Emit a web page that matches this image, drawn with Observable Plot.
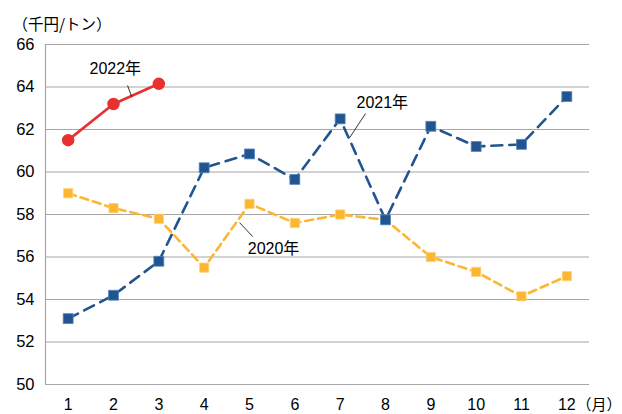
<!DOCTYPE html>
<html><head><meta charset="utf-8">
<script src="https://cdn.jsdelivr.net/npm/d3@7"></script>
<script src="https://cdn.jsdelivr.net/npm/@observablehq/plot@0.6"></script>
<style>
html,body{margin:0;padding:0;background:#fff;}
</style>
</head><body><div id="chart"></div>
<script>
const months = [1,2,3,4,5,6,7,8,9,10,11,12];
const yTicks = [50,52,54,56,58,60,62,64,66];
const v2020 = [59.0,58.3,57.8,55.5,58.5,57.6,58.0,57.75,56.0,55.3,54.15,55.1];
const v2021 = [53.1,54.2,55.8,60.2,60.85,59.65,62.5,57.75,62.15,61.2,61.3,63.55];
const v2022 = [61.5,63.2,64.15];
const labels = [
  {text:"2022年", x:2.04, y:64.87},
  {text:"2021年", x:7.93, y:63.27},
  {text:"2020年", x:5.53, y:56.4}
];
const leaders = [
  {x1:2.31,y1:64.07,x2:2.40,y2:63.55},
  {x1:7.56,y1:62.75,x2:7.21,y2:61.62},
  {x1:4.78,y1:57.62,x2:5.07,y2:56.96}
];
const d2020 = months.map((m,i)=>({m, v:v2020[i]}));
const d2021 = months.map((m,i)=>({m, v:v2021[i]}));
const d2022 = v2022.map((v,i)=>({m:months[i], v}));

const font = "'Liberation Sans', 'Noto Sans CJK JP', sans-serif";
const jfont = "'Noto Sans CJK JP', sans-serif";
const chart = Plot.plot({
  width: 622, height: 414,
  marginLeft: 45, marginRight: 33, marginTop: 44, marginBottom: 30,
  style: {fontFamily: font, fontSize: "16px", color: "#000", background: "#fff"},
  x: {domain: [0.5, 12.5], ticks: months, tickSize: 0, label: null},
  y: {domain: [50, 66], ticks: yTicks, tickSize: 0, label: null},
  marks: [
    Plot.ruleY(yTicks, {stroke: "#a6a6a6", strokeWidth: 1.2}),
    Plot.ruleX([0.5], {stroke: "#a6a6a6", strokeWidth: 1.2}),
    Plot.axisX({ticks: months, tickSize: 0, tickPadding: 14, fontSize: 16, fill: "#000"}),
    Plot.axisY({ticks: yTicks, tickSize: 0, tickPadding: 11, fontSize: 16.5, fill: "#000"}),
    Plot.line(d2020, {x:"m", y:"v", stroke:"#fbb732", strokeWidth:2.6, strokeDasharray:"8,5"}),
    Plot.line(d2021, {x:"m", y:"v", stroke:"#22548f", strokeWidth:2.6, strokeDasharray:"11,7"}),
    Plot.line(d2022, {x:"m", y:"v", stroke:"#e8312f", strokeWidth:2.6}),
    Plot.dot(d2020, {x:"m", y:"v", symbol:"square", r:5.2, fill:"#fbb732", stroke:"#fdd27a", strokeWidth:0.8}),
    Plot.dot(d2021, {x:"m", y:"v", symbol:"square", r:5.6, fill:"#22548f", stroke:"#4f86c0", strokeWidth:0.8}),
    Plot.dot(d2022, {x:"m", y:"v", r:5.5, fill:"#e8312f", stroke:"#e8312f"}),
    Plot.link(leaders, {x1:"x1", y1:"y1", x2:"x2", y2:"y2", stroke:"#000", strokeWidth:0.8}),
    Plot.text(labels, {x:"x", y:"y", text:"text", fontSize:16, fill:"#000", fontFamily: font}),
    Plot.text(["（千円/トン）"], {frameAnchor:"top-left", lineAnchor:"middle", dx:-33, dy:-19, textAnchor:"start", fontSize:15.5, fill:"#000", fontFamily: jfont}),
    Plot.text(["（月）"], {frameAnchor:"bottom-right", lineAnchor:"middle", dx:32, dy:21, textAnchor:"end", fontSize:15, fill:"#000", fontFamily: jfont})
  ]
});
document.getElementById("chart").appendChild(chart);
</script>
</body></html>
